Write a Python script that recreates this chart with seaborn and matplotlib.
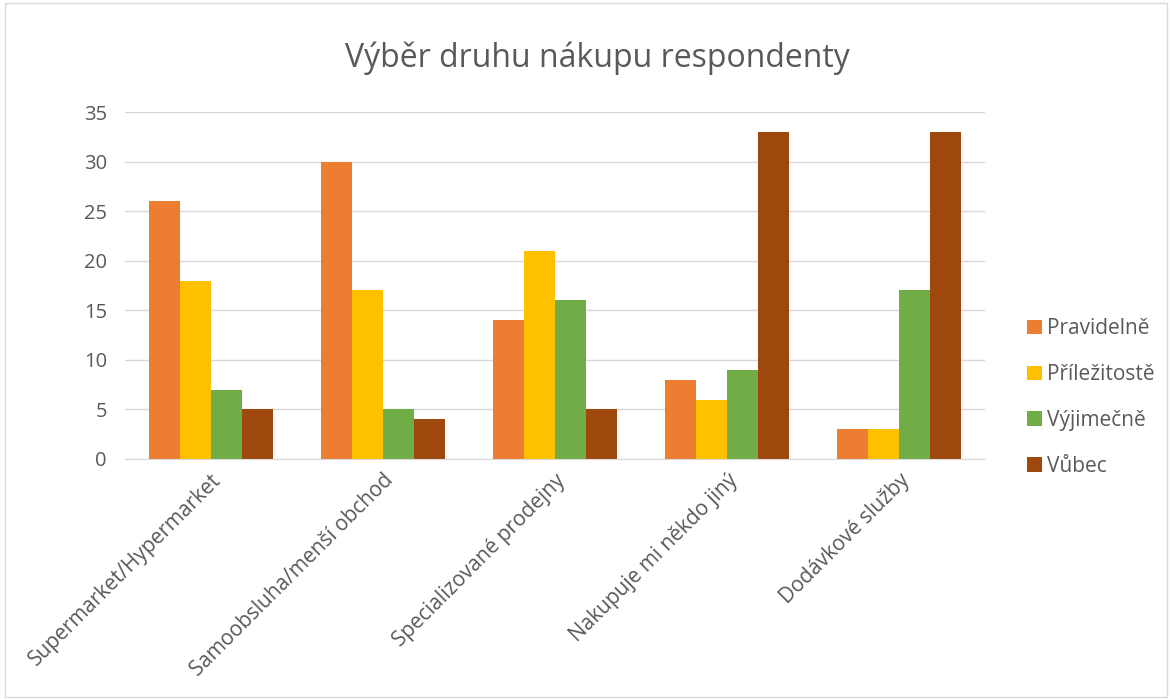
import pandas as pd
import seaborn as sns
import matplotlib.pyplot as plt

categories = ['Supermarket/Hypermarket', 'Samoobsluha/menší obchod', 'Specializované prodejny',
              'Nakupuje mi někdo jiný', 'Dodávkové služby']
series = ['Pravidelně', 'Příležitostě', 'Výjimečně', 'Vůbec']
pravidelne = [26, 30, 14, 8, 3]
prilezitostne = [18, 17, 21, 6, 3]
vyjimecne = [7, 5, 16, 9, 17]
vubec = [5, 4, 5, 33, 33]
colors = ['#ED7D31', '#FFC000', '#70AD47', '#9E480E']

rows = []
for name, vals in zip(series, [pravidelne, prilezitostne, vyjimecne, vubec]):
    for cat, v in zip(categories, vals):
        rows.append({'Kategorie': cat, 'Řada': name, 'Počet': v})
df = pd.DataFrame(rows)

sns.set_style('white')
plt.rcParams['font.family'] = ['Open Sans', 'DejaVu Sans']

fig = plt.figure(figsize=[11.72, 7], dpi=100)
ax = fig.add_axes([125 / 1172, 1 - 459 / 700, 860 / 1172, 347 / 700])
sns.barplot(data=df, x='Kategorie', y='Počet', hue='Řada', palette=colors,
            width=0.72, gap=0, saturation=1, linewidth=0, ax=ax)

ax.set_ylim(0, 35)
ax.set_yticks(range(0, 36, 5))
ax.yaxis.grid(True, color='#D9D9D9', linewidth=1)
ax.set_axisbelow(True)
for s in ['left', 'right', 'top']:
    ax.spines[s].set_visible(False)
ax.spines['bottom'].set_color('#D9D9D9')
ax.set_xlabel('')
ax.set_ylabel('')
ax.tick_params(axis='y', length=0, labelsize=14.5, colors='#595959', pad=13)
ax.tick_params(axis='x', length=0, labelsize=15, colors='#595959', pad=8)
plt.setp(ax.get_xticklabels(), rotation=45, ha='right', rotation_mode='anchor')

leg = ax.legend(loc='center left', bbox_to_anchor=(1.027, 0.177), frameon=False,
                fontsize=15, labelcolor='#595959', handlelength=0.7, handleheight=0.7,
                labelspacing=1.19, handletextpad=0.24)

fig.text(597 / 1172, 1 - 58 / 700, 'Výběr druhu nákupu respondenty', ha='center', va='center',
         fontsize=23, color='#595959')
fig.patches.append(plt.Rectangle((0.004, 0.004), 0.992, 0.992, transform=fig.transFigure,
                                 fill=False, edgecolor='#D9D9D9', linewidth=1))

plt.savefig('out.png', dpi=100)
